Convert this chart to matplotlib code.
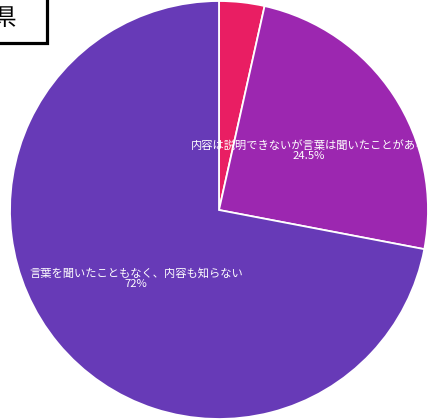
import numpy as np
import matplotlib
matplotlib.use("Agg")
import matplotlib.pyplot as plt
from matplotlib.patches import Rectangle

plt.rcParams['font.family'] = ['Noto Sans CJK JP', 'DejaVu Sans']

# Survey answers
categories = [
    "内容も知っている",
    "内容は説明できないが言葉は聞いたことがある",
    "言葉を聞いたこともなく、内容も知らない",
]
values = [3.5, 24.5, 72]
value_labels = ["3.5%", "24.5%", "72%"]
colors = ["#E91E63", "#9C27B0", "#673AB7"]
show_label = [False, True, True]

W, H, DPI = 428, 420, 100
fig = plt.figure(figsize=(W / DPI, H / DPI), dpi=DPI)
ax = fig.add_axes([0, 0, 1, 1])

R_PX = 209.0
CX, CY = 219.0, 210.0  # pie centre in pixels from top-left

wedges, _ = ax.pie(
    values, colors=colors, startangle=90, counterclock=False,
    wedgeprops=dict(edgecolor="white", linewidth=1.3),
)

ax.set_xlim(-CX / R_PX, (W - CX) / R_PX)
ax.set_ylim(-(H - CY) / R_PX, CY / R_PX)
ax.set_aspect("auto")
ax.axis("off")

# Labels inside the slices
for w, name, vl, show in zip(wedges, categories, value_labels, show_label):
    if not show:
        continue
    mid = np.deg2rad((w.theta1 + w.theta2) / 2)
    r = 0.515
    ax.text(r * np.cos(mid), r * np.sin(mid), f"{name}\n{vl}",
            ha="center", va="center", color="white", fontsize=8.1,
            linespacing=1.0, clip_on=False)

# Boxed region name in the corner
fig.patches.append(Rectangle((-20 / W, 1 - 43 / H), 67 / W, 63 / H,
                             transform=fig.transFigure, facecolor="white",
                             edgecolor="black", linewidth=2.3, zorder=5))
fig.text(5 / W, 1 - 18.5 / H, "県", ha="center", va="center",
         fontsize=17, color="black", zorder=6)

fig.savefig("out.png", dpi=DPI)
